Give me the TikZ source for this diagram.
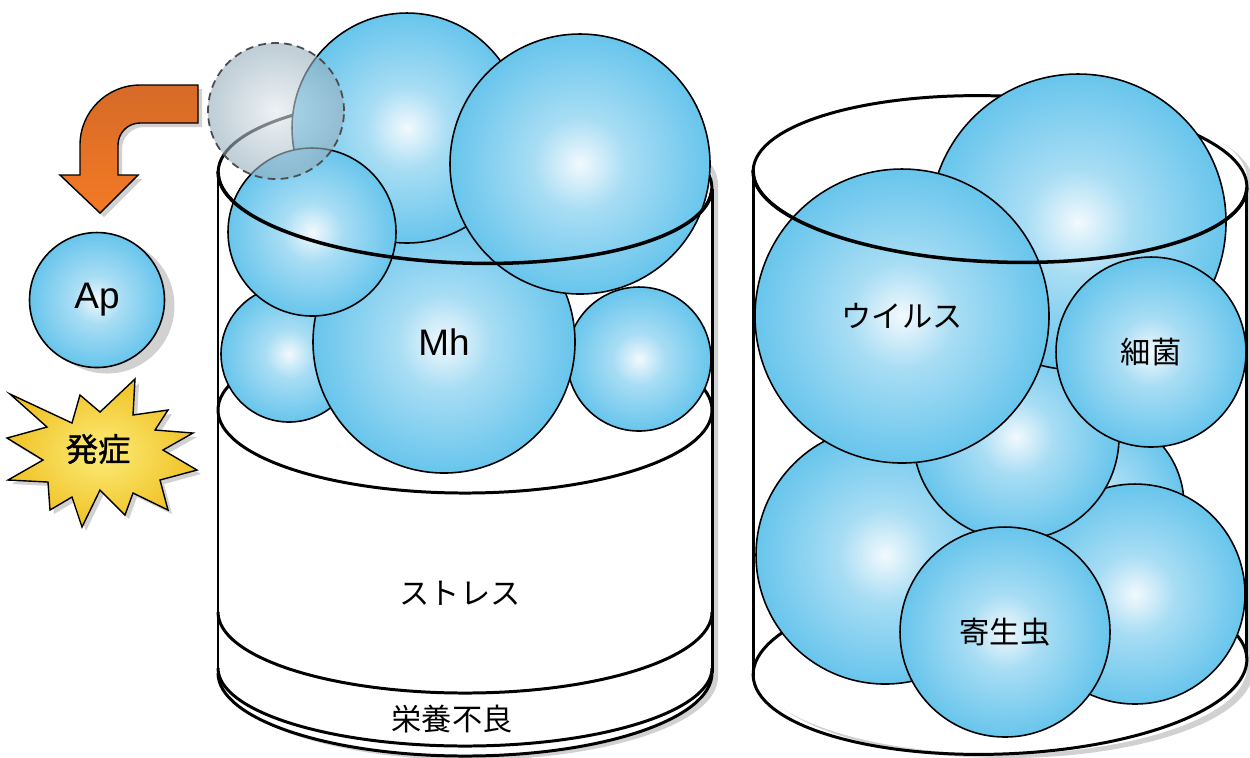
\documentclass[tikz,border=0pt]{standalone}
\usepackage{fontspec}
\setmainfont{Liberation Sans}
\newfontfamily\jp{Noto Sans CJK JP}
\newfontfamily\jpheavy[FakeBold=1.2]{Noto Sans CJK JP}

\definecolor{bubhi}{RGB}{242,249,253}
\definecolor{bubmid}{RGB}{168,221,244}
\definecolor{bubedge}{RGB}{104,197,236}
\definecolor{ghosthi}{RGB}{226,233,237}
\definecolor{ghostedge}{RGB}{147,172,188}
\definecolor{arrowtop}{RGB}{214,106,40}
\definecolor{arrowbot}{RGB}{243,122,36}
\definecolor{burstin}{RGB}{252,236,120}
\definecolor{burstout}{RGB}{240,194,38}

\pgfdeclareradialshading{sphere}{\pgfpoint{0bp}{0bp}}{color(0bp)=(bubhi); color(9bp)=(bubmid); color(25bp)=(bubedge); color(50bp)=(bubedge)}
\pgfdeclareradialshading{ghostshade}{\pgfpoint{0bp}{0bp}}{color(0bp)=(ghosthi); color(25bp)=(ghostedge); color(50bp)=(ghostedge)}

\tikzset{
  sph/.style={circle, inner sep=0pt, minimum size=#1*0.2mm, shade, shading=sphere,
    draw=black, line width=0.45pt, font=\fontsize{10.5pt}{12pt}\selectfont},
  ghost/.style={circle, inner sep=0pt, minimum size=#1*0.2mm, shade, shading=ghostshade,
    fill opacity=0.6, draw=black!70, line width=0.5pt, dash pattern=on 2.2pt off 1.5pt},
  rim/.style={line width=0.85pt},
  jp/.style={font=\jp\fontsize{8.6pt}{10pt}\selectfont},
  castshadow/.style={preaction={fill=black, opacity=0.18, transform canvas={shift={#1}}}},
}

\begin{document}
\begin{tikzpicture}[x=0.1mm, y=-0.1mm]
    \path[use as bounding box, fill=white] (0,0) rectangle (1250,757);

    % bent arrow out of the jar
    \draw[castshadow={(0.4mm,-0.4mm)}, top color=arrowtop, bottom color=arrowbot, line width=0.4pt]
        (198,85) -- (140,85) arc[start angle=270, end angle=180, radius=60] -- (80,175) -- (60,175)
        -- (100,213) -- (138,175) -- (118,175) -- (118,145) arc[start angle=180, end angle=270, radius=22]
        -- (198,123) -- cycle;
    \node[sph=67.5, castshadow={(1mm,-0.6mm)}] (ap) at (97,300) {Ap};

    % burst
    \draw[castshadow={(0.4mm,-0.4mm)}, inner color=burstin, outer color=burstout, line width=0.4pt]
        (10,394) -- (72,423) -- (80,395) -- (100,412) -- (135,379) -- (133,415) -- (168,410)
        -- (155,430) -- (193,433) -- (163,450) -- (197,470) -- (160,480) -- (168,510) -- (133,493)
        -- (125,515) -- (100,490) -- (82,527) -- (72,497) -- (50,510) -- (48,482) -- (8,480)
        -- (43,460) -- (7,438) -- (47,427) -- cycle;
    \node[font=\jpheavy\fontsize{9.2pt}{11pt}\selectfont] (onset) at (98,449) {発症};

    % left jar
    \fill[white, castshadow={(0.6mm,-0.4mm)}] (218,180) arc[start angle=180, end angle=360, x radius=247, y radius=83]
        -- (712,673) arc[start angle=0, end angle=180, x radius=247, y radius=83] -- cycle;
    \draw[rim, rotate around={-2:(465,180)}] (465,180) ellipse[x radius=247, y radius=83];
    \draw[rim] (465,410) ellipse[x radius=247, y radius=83];
    \draw[rim] (218,612) arc[start angle=180, end angle=0, x radius=247, y radius=81];
    \draw[rim] (218,668) arc[start angle=180, end angle=0, x radius=247, y radius=78];
    \draw[rim] (218,673) arc[start angle=180, end angle=0, x radius=247, y radius=83];
    \node[sph=68] (l1) at (289,354) {};
    \node[sph=72] (l2) at (639,359) {};
    \node[sph=131] (mh) at (444,342) {Mh};
    \node[sph=115] (l3) at (407,128) {};
    \node[sph=130] (l4) at (580,164) {};
    \node[sph=84] (l5) at (312,232) {};
    \draw[rim, line width=1pt, rotate around={-2:(465,180)}] (218,180) arc[start angle=180, end angle=0, x radius=247, y radius=83];
    \draw[rim] (218,171) -- (218,673);
    \draw[rim] (712,189) -- (712,673);
    \node[jp] (stress) at (460,593) {ストレス};
    \node[jp] (nutrition) at (452,719) {栄養不良};
    \node[ghost=68] (gone) at (276,111) {};

    % right jar
    \fill[white, castshadow={(0.6mm,-0.4mm)}] (753,179) arc[start angle=180, end angle=360, x radius=247, y radius=83]
        -- (1247,667) arc[start angle=0, end angle=180, x radius=247, y radius=87] -- cycle;
    \draw[rim, rotate around={-2:(1000,179)}] (1000,179) ellipse[x radius=247, y radius=83];
    \draw[rim, rotate around={2:(1000,667)}] (1000,667) ellipse[x radius=247, y radius=87];
    \node[sph=92] (r1) at (1092,505) {};
    \node[sph=110] (r2) at (1135,594) {};
    \node[sph=129] (r3) at (885,555) {};
    \node[sph=103] (r4) at (1016,437) {};
    \node[sph=148] (r5) at (1078,222) {};
    \node[sph=147, jp] (virus) at (902,316) {ウイルス};
    \node[sph=95, jp] (bacteria) at (1151,352) {細菌};
    \node[sph=105, jp] (parasite) at (1005,632) {寄生虫};
    \draw[rim, line width=1pt, rotate around={-2:(1000,179)}] (753,179) arc[start angle=180, end angle=0, x radius=247, y radius=83];
    \draw[rim] (753,170) -- (753,676);
    \draw[rim] (1246.5,188) -- (1246.5,658);
\end{tikzpicture}
\end{document}
